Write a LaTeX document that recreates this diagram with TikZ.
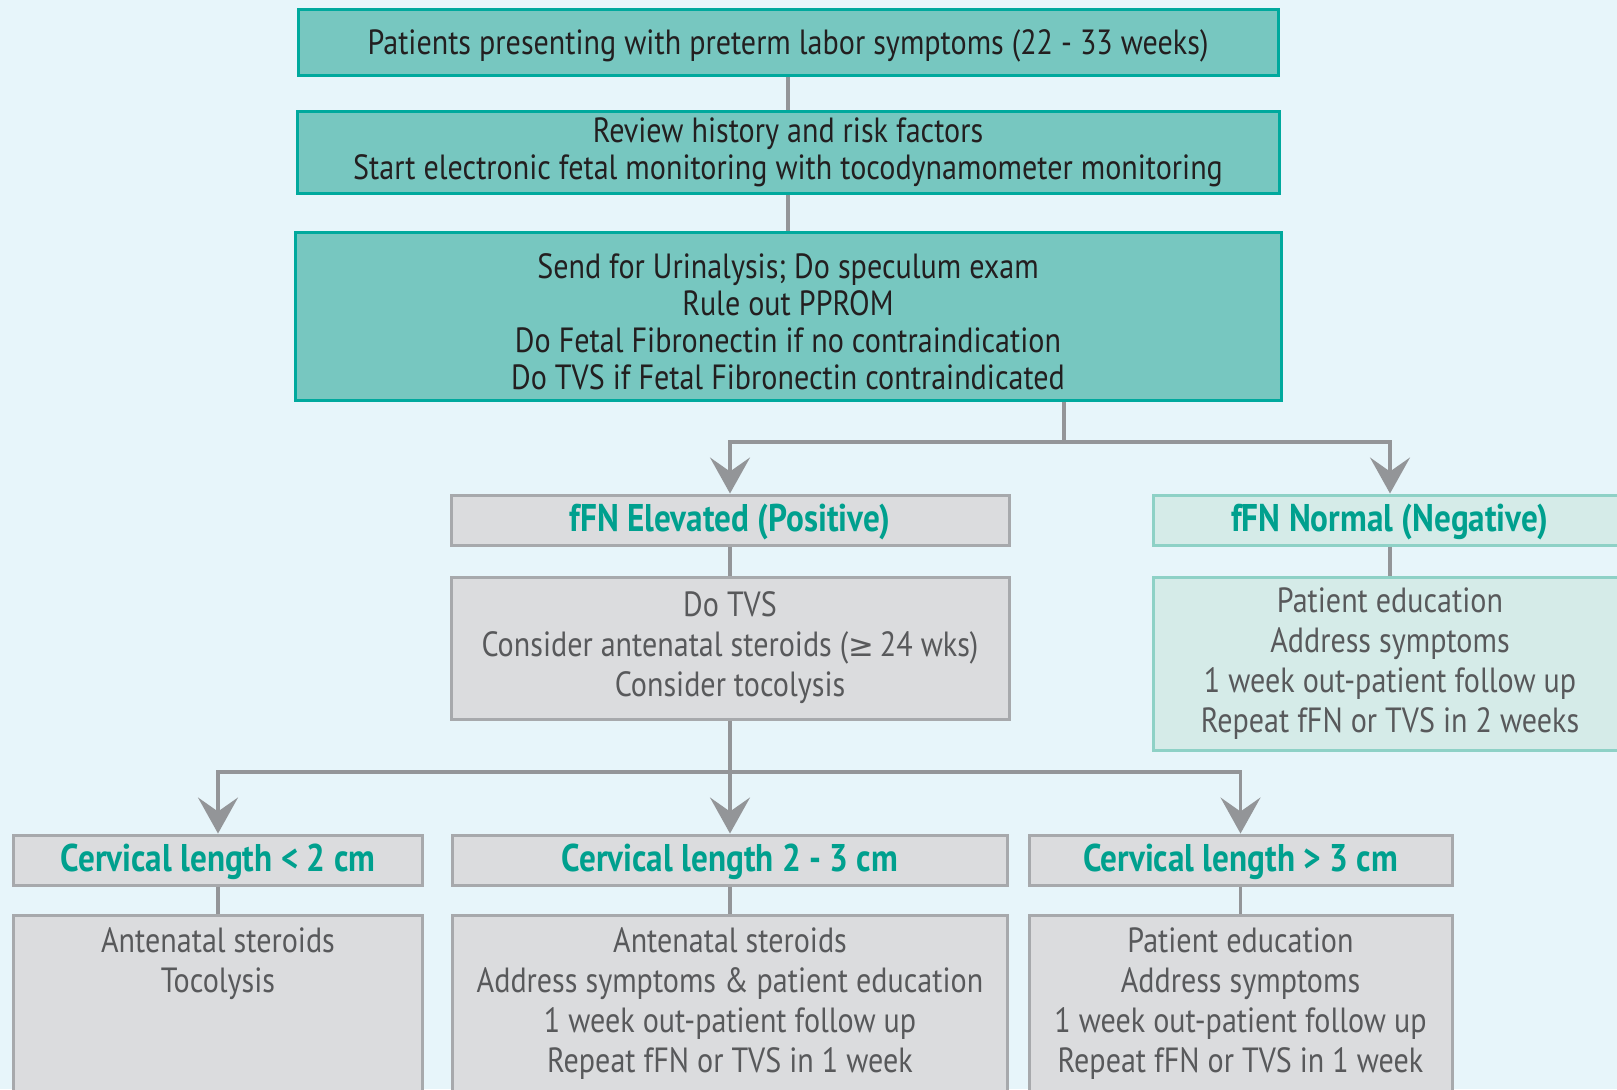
\documentclass[tikz,border=0pt]{standalone}
\usepackage{fontspec}
\setmainfont{PT Sans}[FakeStretch=0.86]
\newfontfamily\symfont{DejaVu Sans}[Scale=0.88]
\usetikzlibrary{arrows.meta}

\definecolor{bgblue}{HTML}{E7F5FA}
\definecolor{tealfill}{HTML}{77C7C0}
\definecolor{tealdraw}{HTML}{00A99D}
\definecolor{greyfill}{HTML}{DBDCDE}
\definecolor{greydraw}{HTML}{A7A9AC}
\definecolor{mintfill}{HTML}{D5EBE8}
\definecolor{mintdraw}{HTML}{8ED1C6}
\definecolor{tealtext}{HTML}{00A08E}
\definecolor{greytext}{HTML}{58595B}
\definecolor{darktext}{HTML}{231F20}
\definecolor{linegrey}{HTML}{939598}

% body of a box whose text sits at its top
\newcommand{\topcell}[2]{\parbox[c][100pt][t]{#1}{\vspace*{6pt}\centering #2}}

\tikzset{
  stepbox/.style={rectangle, line width=1.5pt, align=center, inner sep=0pt,
    font=\fontsize{17.5}{18.5}\selectfont},
  tealbox/.style={stepbox, fill=tealfill, draw=tealdraw, text=darktext},
  greybox/.style={stepbox, fill=greyfill, draw=greydraw, text=greytext,
    font=\fontsize{17.5}{20}\selectfont},
  mintbox/.style={greybox, fill=mintfill, draw=mintdraw},
  headbox/.style={greybox, text=tealtext, text depth=2pt,
    font=\fontsize{19.3}{20}\selectfont\bfseries},
  minthead/.style={headbox, fill=mintfill, draw=mintdraw},
  link/.style={draw=linegrey, line width=1.6pt},
  flow/.style={link, -{Stealth[length=18pt,width=20pt,inset=7pt]}}
}

\begin{document}
\begin{tikzpicture}[x=0.5pt, y=-0.5pt]
\useasboundingbox[fill=bgblue] (0,0) rectangle (1617,1089);

% top chain
\node[tealbox, text depth=0pt, minimum width=490pt, minimum height=33pt] (start) at (788,42)
  {Patients presenting with preterm labor symptoms (22 - 33 weeks)};
\node[tealbox, minimum width=491pt, minimum height=41pt] (review) at (788,152)
  {Review history and risk factors\\Start electronic fetal monitoring with tocodynamometer monitoring};
\node[tealbox, minimum width=493pt, minimum height=84pt] (tests) at (788,316)
  {\rule{0pt}{18.5pt}Send for Urinalysis; Do speculum exam\\Rule out PPROM\\Do Fetal Fibronectin if no contraindication\\Do TVS if Fetal Fibronectin contraindicated};

% fFN result
\node[headbox, minimum width=279pt, minimum height=25pt] (elev) at (730,520) {fFN Elevated (Positive)};
\node[greybox, minimum width=279pt, minimum height=71pt] (tvs) at (730,648)
  {Do TVS\\Consider antenatal steroids ({\symfont ≥}\,24 wks)\\Consider tocolysis};
\node[minthead, minimum width=237pt, minimum height=25pt] (norm) at (1390,520) {fFN Normal (Negative)};
\node[mintbox, minimum width=237pt, minimum height=86.5pt] (normcare) at (1390,663.5)
  {Patient education\\Address symptoms\\1 week out-patient follow up\\Repeat fFN or TVS in 2 weeks};

% cervical length
\node[headbox, minimum width=204.5pt, minimum height=25pt] (cl1) at (218,860) {Cervical length < 2 cm};
\node[headbox, minimum width=277.5pt, minimum height=25pt] (cl2) at (730,860) {Cervical length 2 - 3 cm};
\node[headbox, minimum width=211.5pt, minimum height=25pt] (cl3) at (1240.5,860) {Cervical length > 3 cm};

\node[greybox, minimum width=204.5pt, anchor=north] (care1) at (218,914)
  {\topcell{200pt}{Antenatal steroids\\Tocolysis}};
\node[greybox, minimum width=277.5pt, anchor=north] (care2) at (730,914)
  {\topcell{274pt}{Antenatal steroids\\Address symptoms \& patient education\\1 week out-patient follow up\\Repeat fFN or TVS in 1 week}};
\node[greybox, minimum width=211.5pt, anchor=north] (care3) at (1240.5,914)
  {\topcell{208pt}{Patient education\\Address symptoms\\1 week out-patient follow up\\Repeat fFN or TVS in 1 week}};

\coordinate (split1) at (1064,442);
\coordinate (split2) at (730,772);

\draw[link] (start) -- (review);
\draw[link] (review) -- (tests);
\draw[link] (tests.south -| split1) -- (split1);
\draw[flow] (split1) -| (elev.north);
\draw[flow] (split1) -| (norm.north);
\draw[link] (elev) -- (tvs);
\draw[link] (norm) -- (normcare);
\draw[link] (tvs) -- (split2);
\draw[flow] (split2) -| (cl1.north);
\draw[flow] (split2) -- (cl2.north);
\draw[flow] (split2) -| (cl3.north);
\draw[link] (cl1) -- (care1);
\draw[link] (cl2) -- (care2);
\draw[link] (cl3) -- (care3);

\end{tikzpicture}
\end{document}
